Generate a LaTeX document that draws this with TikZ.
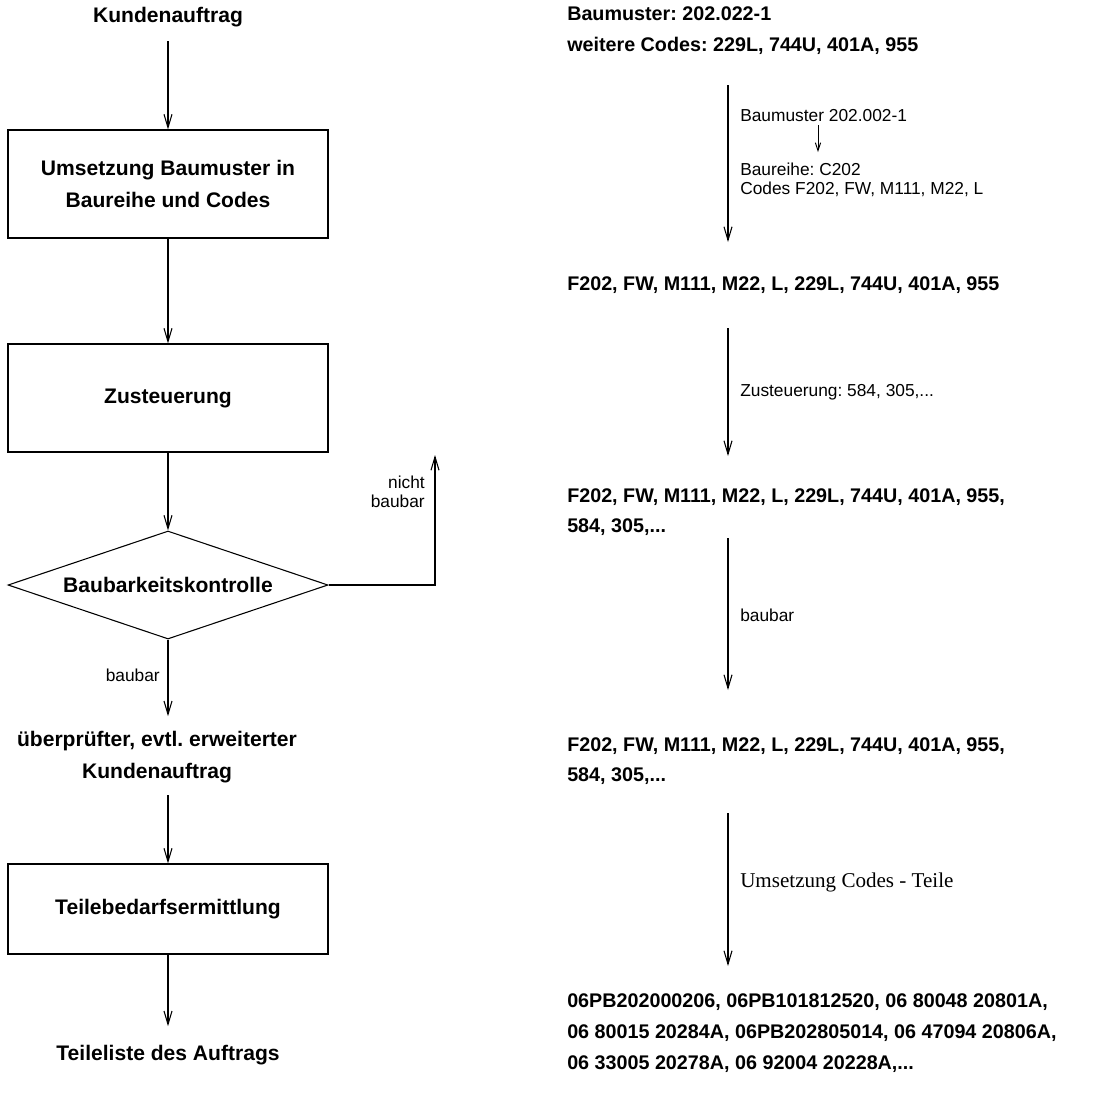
\documentclass[tikz,border=0pt]{standalone}
\usepackage{fontspec}
\setmainfont{Liberation Sans}
\newfontfamily\serifface{Liberation Serif}
\usetikzlibrary{arrows.meta,shapes.geometric}
\frenchspacing

\tikzset{
  % left column: bold process texts
  lbold/.style={inner sep=0pt, font=\fontsize{15.8}{24}\selectfont\bfseries, align=center},
  % right column: bold code lists
  rbold/.style={inner sep=0pt, anchor=west, align=left, font=\fontsize{14.8}{23}\selectfont\bfseries},
  % small explanatory labels
  small/.style={inner sep=0pt, font=\fontsize{13}{14.3}\selectfont},
  stepbox/.style={draw, line width=0.8pt, minimum width=240pt, inner sep=0pt,
    font=\fontsize{15.8}{24}\selectfont\bfseries, align=center},
  check/.style={draw, diamond, aspect=2.96, line width=0.8pt, minimum width=240pt, minimum height=81pt,
    inner sep=0pt, font=\fontsize{15.8}{24}\selectfont\bfseries},
  arr/.style={line width=0.8pt, -{Straight Barb[length=10pt,width=6pt]}},
  sarr/.style={line width=0.7pt, -{Straight Barb[length=6pt,width=4pt]}}
}

\begin{document}
\begin{tikzpicture}[x=0.75pt,y=-0.75pt]
  \fill[white] (0,0) rectangle (1103,1093);
  \useasboundingbox (0,0) rectangle (1103,1093);

  % ---------------- left column: order processing ----------------
  \node[lbold] (k1) at (168,17) {Kundenauftrag};
  \node[stepbox, minimum height=81pt] (b1) at (168,184) {Umsetzung Baumuster in\\Baureihe und Codes};
  \node[stepbox, minimum height=81pt] (b2) at (168,398) {Zusteuerung};
  \node[check] (d) at (168,585) {Baubarkeitskontrolle};
  \node[lbold] (u) at (157,757) {überprüfter, evtl. erweiterter\\Kundenauftrag};
  \node[stepbox, minimum height=67.5pt] (b3) at (168,909) {Teilebedarfsermittlung};
  \node[lbold] (t) at (168,1055) {Teileliste des Auftrags};

  \coordinate (nb) at (435,455);
  \node[small, anchor=east, align=right] (nbl) at (425,492) {nicht\\baubar};
  \node[small, anchor=east] (bl) at (160,675) {baubar};

  \draw[arr, shorten <=10.5pt] (k1.south) -- (b1.north);
  \draw[arr] (b1) -- (b2);
  \draw[arr] (b2) -- (d);
  \draw[arr] (d.east) -| (nb);
  \draw[arr, shorten >=11pt] (d.south) -- (u.north -| d.south);
  \draw[arr, shorten <=9pt] (u.south -| b3.north) -- (b3.north);
  \draw[arr, shorten >=14pt] (b3.south) -- (t.north -| b3.south);

  % ---------------- right column: example data ----------------
  \node[rbold] (r1) at (567,30.5) {Baumuster: 202.022-1\\weitere Codes: 229L, 744U, 401A, 955};
  \node[rbold] (r2) at (567,285) {F202, FW, M111, M22, L, 229L, 744U, 401A, 955};
  \node[rbold] (r3) at (567,512) {F202, FW, M111, M22, L, 229L, 744U, 401A, 955,\\584, 305,...};
  \node[rbold] (r4) at (567,761) {F202, FW, M111, M22, L, 229L, 744U, 401A, 955,\\584, 305,...};
  \node[rbold] (r5) at (567,1033) {06PB202000206, 06PB101812520, 06 80048 20801A,\\06 80015 20284A, 06PB202805014, 06 47094 20806A,\\06 33005 20278A, 06 92004 20228A,...};

  \node[small, anchor=west] (m1) at (740,116) {Baumuster 202.002-1};
  \node[small, anchor=west, align=left] (m2) at (740,180) {Baureihe: C202\\Codes F202, FW, M111, M22, L};
  \node[small, anchor=west] (m3) at (740,392) {Zusteuerung: 584, 305,...};
  \node[small, anchor=west] (m4) at (740,615) {baubar};
  \node[anchor=west, inner sep=0pt, font=\serifface\fontsize{15.8}{18}\selectfont] (m5) at (740,882) {Umsetzung Codes - Teile};

  \coordinate (mx) at (818,0);
  \draw[sarr, shorten <=2pt, shorten >=8pt] (m1.south -| mx) -- (m2.north -| mx);

  \coordinate (a1) at (728,85);   \coordinate (a1e) at (728,242);
  \coordinate (a2) at (728,328);  \coordinate (a2e) at (728,456);
  \coordinate (a3) at (728,538);  \coordinate (a3e) at (728,690);
  \coordinate (a4) at (728,813);  \coordinate (a4e) at (728,966);
  \draw[arr] (a1) -- (a1e);
  \draw[arr] (a2) -- (a2e);
  \draw[arr] (a3) -- (a3e);
  \draw[arr] (a4) -- (a4e);
\end{tikzpicture}
\end{document}
